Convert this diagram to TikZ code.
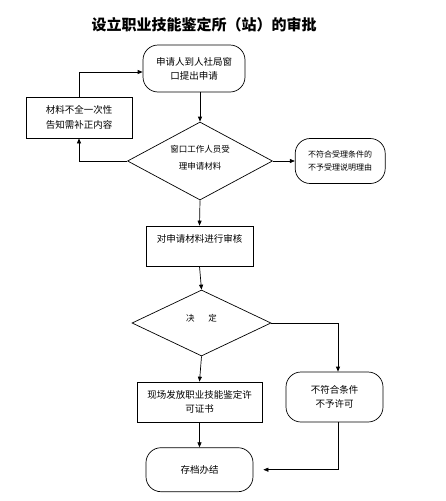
\documentclass[tikz,border=0pt]{standalone}
\usepackage{fontspec}
\setmainfont{Noto Sans CJK SC}
\usepackage{tikz}
\usetikzlibrary{arrows.meta,positioning,shapes.geometric}

\begin{document}
\begin{tikzpicture}[x=1pt,y=-1pt,>={Triangle[length=5pt,width=4pt]},line width=0.7pt,
  box/.style={draw,align=center,inner sep=2pt,font=\fontsize{9.5}{14}\selectfont},
  term/.style={box,rounded corners=15pt},
  choice/.style={draw,diamond,aspect=2,inner sep=1pt,align=center,font=\fontsize{8.5}{17}\selectfont}]
\useasboundingbox (0,0) rectangle (446,501);
\node[font=\bfseries\fontsize{15}{17}\selectfont] (title) at (204,25) {设立职业技能鉴定所（站）的审批};
\node[term,minimum width=102pt,minimum height=47pt] (apply) at (194,68.5) {申请人到人社局窗\\口提出申请};
\node[choice,minimum width=145pt,minimum height=78pt] (accept) at (200,161) {窗口工作人员受\\理申请材料\\[-10pt]\mbox{}};
\node[box,minimum width=106pt,minimum height=41pt,font=\fontsize{9.5}{15}\selectfont] (lack) at (79,117.5) {材料不全一次性\\告知需补正内容};
\node[term,minimum width=90pt,minimum height=45pt,font=\fontsize{8}{13}\selectfont,right=22pt of accept] (refuse) {不符合受理条件的\\不予受理说明理由};
\node[box,minimum width=107pt,minimum height=40pt] (review) at (199.5,246) {对申请材料进行审核\\[2pt]\mbox{}};
\node[choice,minimum width=139pt,minimum height=66pt] (decide) at (201.5,323) {决\hspace{1.6em}定\\[-6pt]\mbox{}};
\node[box,minimum width=125pt,minimum height=40pt] (issue) at (199.5,402) {现场发放职业技能鉴定许\\可证书};
\node[term,minimum width=97pt,minimum height=50pt] (deny) at (334.5,397) {不符合条件\\不予许可};
\node[term,minimum width=107pt,minimum height=44pt,below=25pt of issue] (final) {存档办结};
% connectors
\draw[->] (apply.south -| accept.north) -- (accept.north);
\draw[->] (accept.west) -| (lack.south);
\draw[->] (lack.north) |- ([yshift=-3.5pt]apply.west);
\draw[->] (accept.east) -- (refuse.west);
\draw[->] (accept.south) -- (review.north);
\draw[->] (review.south) -- (decide.north);
\draw[->] (decide.east) -| ([xshift=3.5pt]deny.north);
\draw[->] (decide.south) -- (issue.north);
\draw[->] (issue.south) -- (final.north);
\draw[->,shorten >=10pt] ([xshift=3.5pt]deny.south) |- (final.east);
\end{tikzpicture}
\end{document}
